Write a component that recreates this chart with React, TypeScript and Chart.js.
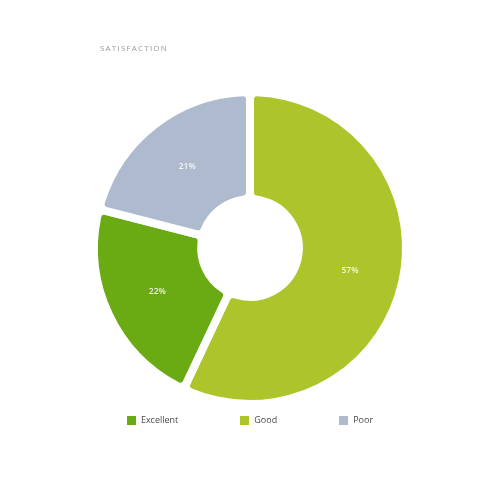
import React, { useEffect, useRef } from "react";
import { Chart, registerables } from "chart.js";

Chart.register(...registerables);

const categories = ["Good", "Excellent", "Poor"];
const values = [57, 22, 21];
const colors = ["#adc52a", "#6aab14", "#aebbcf"];
const legendOrder = ["Excellent", "Good", "Poor"];
const titleText = "SATISFACTION";

const labelPlugin = {
  id: "sliceLabels",
  afterDatasetsDraw(chart: any) {
    const { ctx } = chart;
    const meta = chart.getDatasetMeta(0);
    const data = chart.data.datasets[0].data as number[];
    ctx.save();
    ctx.font = "600 8.5px 'Open Sans', sans-serif";
    ctx.fillStyle = "rgba(255,255,255,0.85)";
    ctx.textAlign = "center";
    ctx.textBaseline = "middle";
    meta.data.forEach((arc: any, i: number) => {
      const p = arc.tooltipPosition();
      ctx.fillText(data[i] + "%", p.x, p.y);
    });
    ctx.restore();
  },
};

export default function App() {
  const ref = useRef<HTMLCanvasElement>(null);
  useEffect(() => {
    if (!ref.current) return;
    const chart = new Chart(ref.current, {
      type: "doughnut",
      data: {
        labels: categories,
        datasets: [
          {
            data: values,
            backgroundColor: colors,
            borderColor: "#ffffff",
            borderWidth: 8,
            borderRadius: 7,
          },
        ],
      },
      options: {
        animation: false,
        responsive: false,
        cutout: "31.3%",
        layout: { padding: { left: 90, right: 90, top: 88, bottom: 92 } },
        plugins: {
          legend: { display: false },
          tooltip: { enabled: false },
          title: { display: false },
        },
      },
      plugins: [labelPlugin],
    });
    return () => chart.destroy();
  }, []);

  return (
    <div style={{ position: "absolute", left: 0, top: 0, width: 500, height: 500, background: "#fff", fontFamily: "'Open Sans', sans-serif" }}>
      <canvas ref={ref} width={500} height={500} style={{ position: "absolute", left: 0, top: 0 }} />
      <div style={{ position: "absolute", left: 100, top: 42, fontSize: 8, letterSpacing: 1.2, color: "#999", lineHeight: "12px" }}>
        {titleText}
      </div>
      <div style={{ position: "absolute", left: 0, top: 413, width: 500, display: "flex", justifyContent: "center", gap: 62, fontSize: 9, color: "#4a4a4a", lineHeight: "14px" }}>
        {legendOrder.map((name) => (
          <div key={name} style={{ display: "flex", alignItems: "center" }}>
            <span style={{ display: "inline-block", width: 9, height: 9, background: colors[categories.indexOf(name)], marginRight: 5 }} />
            <span>{name}</span>
          </div>
        ))}
      </div>
    </div>
  );
}
